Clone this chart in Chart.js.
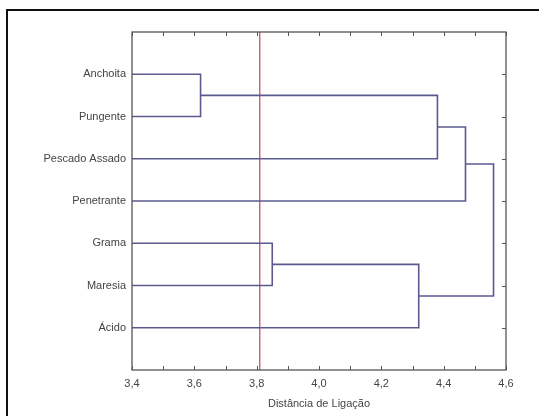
<!DOCTYPE html>
<html>
<head>
<meta charset="utf-8">
<script src="https://cdn.jsdelivr.net/npm/chart.js@4/dist/chart.umd.min.js"></script>
<style>
  body { margin: 0; background: #fff; }
  #wrap { position: relative; width: 539px; height: 416px; overflow: hidden; }
  #frame { position: absolute; left: 6px; top: 9px; width: 560px; height: 440px; border: 2px solid #111; }
  canvas { position: absolute; left: 0; top: 0; }
</style>
</head>
<body>
<div id="wrap">
  <div id="frame"></div>
  <canvas id="chart" width="539" height="416"></canvas>
</div>
<script>
// leaves, top to bottom
const leaves = ["Anchoita", "Pungente", "Pescado Assado", "Penetrante", "Grama", "Maresia", "Ácido"]
// merges: [left, right, distance]; ids < 7 are leaves, 7+ are earlier merges
const merges = [
  [0, 1, 3.62],
  [7, 2, 4.38],
  [8, 3, 4.47],
  [4, 5, 3.85],
  [10, 6, 4.32],
  [9, 11, 4.56],
]
const cutOff = 3.81
const xTicks = [3.4, 3.6, 3.8, 4.0, 4.2, 4.4, 4.6]
const xMin = 3.4
const xMax = 4.6

// node positions: x = distance, y = row
const nodes = leaves.map((l, i) => ({ x: xMin, y: i + 1 }))
const datasets = []
merges.forEach(m => {
  const a = nodes[m[0]]
  const b = nodes[m[1]]
  datasets.push({
    data: [
      { x: a.x, y: a.y },
      { x: m[2], y: a.y },
      { x: m[2], y: b.y },
      { x: b.x, y: b.y },
    ],
    borderColor: "#5a5a90",
    borderWidth: 1.6,
  })
  nodes.push({ x: m[2], y: (a.y + b.y) / 2 })
})
datasets.push({
  data: [{ x: cutOff, y: 0 }, { x: cutOff, y: leaves.length + 1 }],
  borderColor: "#c0464a",
  borderWidth: 1.2,
})

const boxPlugin = {
  id: "box",
  afterDatasetsDraw(chart) {
    const { ctx, chartArea, scales } = chart
    const { left, right, top, bottom } = chartArea
    ctx.save()
    ctx.strokeStyle = "#555"
    ctx.lineWidth = 1.3
    ctx.strokeRect(left, top, right - left, bottom - top)
    ctx.lineWidth = 1
    for (let v = 34; v <= 46; v++) {
      const x = Math.round(scales.x.getPixelForValue(v / 10)) + 0.5
      ctx.beginPath()
      ctx.moveTo(x, top)
      ctx.lineTo(x, top + 4)
      ctx.moveTo(x, bottom)
      ctx.lineTo(x, bottom - 4)
      ctx.stroke()
    }
    leaves.forEach((l, i) => {
      const y = Math.round(scales.y.getPixelForValue(i + 1)) + 0.5
      ctx.beginPath()
      ctx.moveTo(right, y)
      ctx.lineTo(right - 4, y)
      ctx.stroke()
    })
    ctx.restore()
  },
}

new Chart(document.getElementById("chart"), {
  type: "scatter",
  data: { datasets },
  options: {
    responsive: false,
    animation: false,
    showLine: true,
    elements: { point: { radius: 0 }, line: { tension: 0 } },
    layout: { padding: { top: 32, right: 33, left: 0, bottom: 0 } },
    plugins: { legend: { display: false }, tooltip: { enabled: false } },
    scales: {
      x: {
        type: "linear",
        min: xMin,
        max: xMax,
        afterBuildTicks: s => { s.ticks = xTicks.map(v => ({ value: v })) },
        afterFit: s => { s.height = 46 },
        grid: { display: false, drawTicks: false, tickLength: 0 },
        border: { display: false },
        ticks: {
          padding: 7,
          color: "#444",
          font: { family: "Liberation Sans", size: 11 },
          callback: v => v.toFixed(1).replace(".", ","),
        },
        title: {
          display: true,
          text: "Distância de Ligação",
          color: "#444",
          font: { family: "Liberation Sans", size: 11 },
          padding: { top: 2, bottom: 5 },
        },
      },
      y: {
        type: "linear",
        min: 0,
        max: leaves.length + 1,
        reverse: true,
        afterBuildTicks: s => { s.ticks = leaves.map((l, i) => ({ value: i + 1 })) },
        afterFit: s => { s.width = 132 },
        grid: { display: false, drawTicks: false, tickLength: 0 },
        border: { display: false },
        ticks: {
          padding: 6,
          color: "#444",
          font: { family: "Liberation Sans", size: 11 },
          callback: v => leaves[v - 1] || "",
        },
      },
    },
  },
  plugins: [boxPlugin],
})
</script>
</body>
</html>
